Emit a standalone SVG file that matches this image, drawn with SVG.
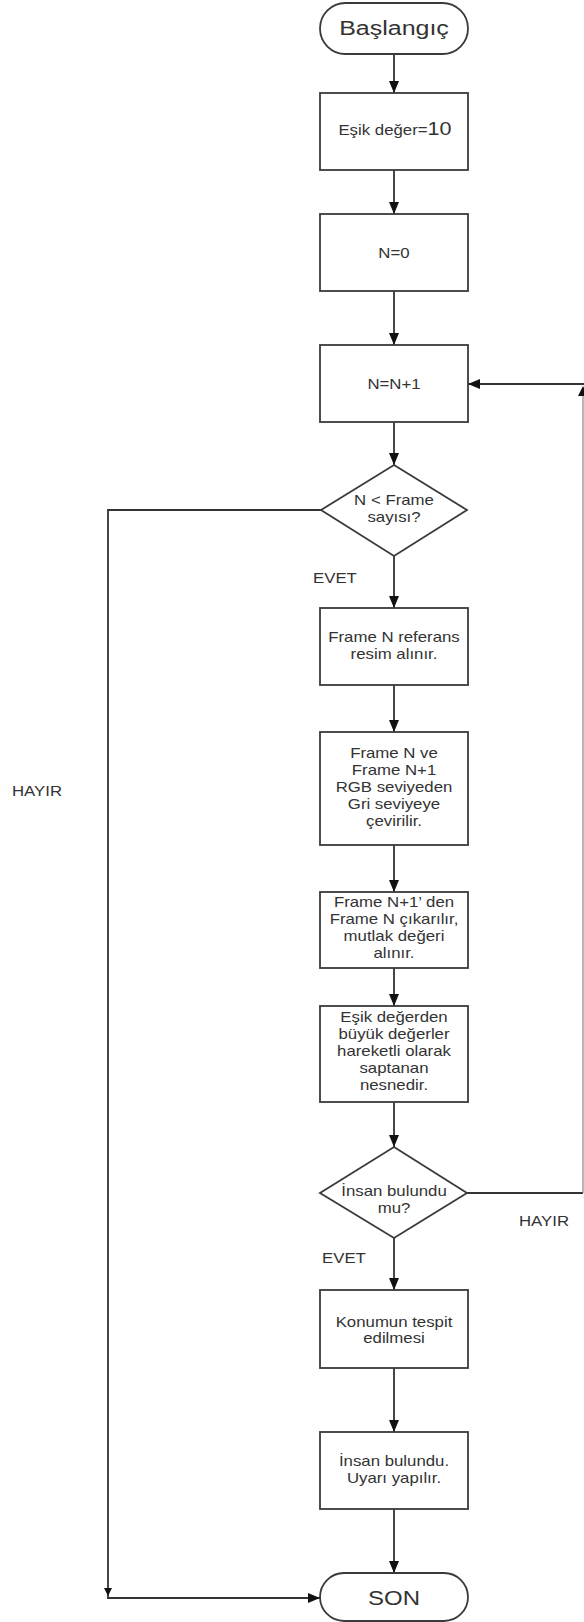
<svg xmlns="http://www.w3.org/2000/svg" width="584" height="1622" viewBox="0 0 584 1622">
<style>
.shape{fill:#fff;stroke:#3a3a3a;stroke-width:1.8}
.ln{fill:none;stroke:#333;stroke-width:1.8}
.t{font-family:"Liberation Sans",Arial,sans-serif;font-size:14px;fill:#333;text-anchor:middle}
.tl{font-family:"Liberation Sans",Arial,sans-serif;font-size:14px;fill:#333;text-anchor:start}
.big{font-size:20px}
</style>
<defs>
<marker id="ah" viewBox="0 0 12 10" refX="12" refY="5" markerWidth="12" markerHeight="10" markerUnits="userSpaceOnUse" orient="auto">
<path d="M0,0 L12,5 L0,10 z" fill="#111"/>
</marker>
</defs>
<rect width="584" height="1622" fill="#fff"/>

<g id="connectors">
<line class="ln" x1="394" y1="54" x2="394" y2="93" marker-end="url(#ah)"/>
<line class="ln" x1="394" y1="170" x2="394" y2="214" marker-end="url(#ah)"/>
<line class="ln" x1="394" y1="291" x2="394" y2="345" marker-end="url(#ah)"/>
<line class="ln" x1="394" y1="422" x2="394" y2="465" marker-end="url(#ah)"/>
<line class="ln" x1="394" y1="556" x2="394" y2="608" marker-end="url(#ah)"/>
<line class="ln" x1="394" y1="685" x2="394" y2="732" marker-end="url(#ah)"/>
<line class="ln" x1="394" y1="845" x2="394" y2="892" marker-end="url(#ah)"/>
<line class="ln" x1="394" y1="968" x2="394" y2="1006" marker-end="url(#ah)"/>
<line class="ln" x1="394" y1="1102" x2="394" y2="1147" marker-end="url(#ah)"/>
<line class="ln" x1="394" y1="1238" x2="394" y2="1290" marker-end="url(#ah)"/>
<line class="ln" x1="394" y1="1368" x2="394" y2="1432" marker-end="url(#ah)"/>
<line class="ln" x1="394" y1="1509" x2="394" y2="1573" marker-end="url(#ah)"/>
<!-- loop back (HAYIR from second decision) -->
<polyline class="ln" points="467,1193 583,1193"/>
<line x1="583" y1="1193" x2="583" y2="392" stroke="#888" stroke-width="1.2"/>
<polygon points="583,386 578,396 588,396" fill="#111"/>
<line class="ln" x1="584" y1="384" x2="468" y2="384" marker-end="url(#ah)"/>
<!-- HAYIR from first decision to end -->
<polyline class="ln" points="321,510 108,510 108,1598 320,1598" marker-end="url(#ah)"/>
<polygon points="108,1596 104,1588 112,1588" fill="#111"/>
</g>

<g id="start">
<rect class="shape" x="320" y="3" width="148" height="51" rx="25.5"/>
<g transform="translate(394,0) scale(1.25,1)"><text class="t big" x="0" y="35">Başlangıç</text></g>
</g>

<g id="esik">
<rect class="shape" x="320" y="93" width="148" height="77"/>
<g transform="translate(395,0) scale(1.2,1)"><text class="t" x="0" y="135">Eşik değer=<tspan font-size="18">10</tspan></text></g>
</g>

<g id="n0">
<rect class="shape" x="320" y="214" width="148" height="77"/>
<g transform="translate(394,0) scale(1.2,1)"><text class="t" x="0" y="258">N=0</text></g>
</g>

<g id="ninc">
<rect class="shape" x="320" y="345" width="148" height="77"/>
<g transform="translate(394,0) scale(1.2,1)"><text class="t" x="0" y="389">N=N+1</text></g>
</g>

<g id="dec1">
<polygon class="shape" points="394,465 467,510 394,556 321,510"/>
<g transform="translate(394,0) scale(1.2,1)"><text class="t" x="0" y="505">N &lt; Frame</text><text class="t" x="0" y="522">sayısı?</text></g>
</g>

<g id="ref">
<rect class="shape" x="320" y="608" width="148" height="77"/>
<g transform="translate(394,0) scale(1.2,1)"><text class="t" x="0" y="642">Frame N referans</text><text class="t" x="0" y="659">resim alınır.</text></g>
</g>

<g id="gray">
<rect class="shape" x="320" y="732" width="148" height="113"/>
<g transform="translate(394,0) scale(1.2,1)">
<text class="t" x="0" y="758">Frame N ve</text>
<text class="t" x="0" y="775">Frame N+1</text>
<text class="t" x="0" y="792">RGB seviyeden</text>
<text class="t" x="0" y="809">Gri seviyeye</text>
<text class="t" x="0" y="826">çevirilir.</text>
</g>
</g>

<g id="diff">
<rect class="shape" x="320" y="892" width="148" height="76"/>
<g transform="translate(394,0) scale(1.2,1)">
<text class="t" x="0" y="907">Frame N+1’ den</text>
<text class="t" x="0" y="924">Frame N çıkarılır,</text>
<text class="t" x="0" y="941">mutlak değeri</text>
<text class="t" x="0" y="958">alınır.</text>
</g>
</g>

<g id="thresh">
<rect class="shape" x="320" y="1006" width="148" height="96"/>
<g transform="translate(394,0) scale(1.2,1)">
<text class="t" x="0" y="1022">Eşik değerden</text>
<text class="t" x="0" y="1039">büyük değerler</text>
<text class="t" x="0" y="1056">hareketli olarak</text>
<text class="t" x="0" y="1073">saptanan</text>
<text class="t" x="0" y="1090">nesnedir.</text>
</g>
</g>

<g id="dec2">
<polygon class="shape" points="394,1147 467,1193 394,1238 320,1193"/>
<g transform="translate(394,0) scale(1.2,1)"><text class="t" x="0" y="1196">İnsan bulundu</text><text class="t" x="0" y="1213">mu?</text></g>
</g>

<g id="konum">
<rect class="shape" x="320" y="1290" width="148" height="78"/>
<g transform="translate(394,0) scale(1.2,1)"><text class="t" x="0" y="1327">Konumun tespit</text><text class="t" x="0" y="1343">edilmesi</text></g>
</g>

<g id="uyari">
<rect class="shape" x="320" y="1432" width="148" height="77"/>
<g transform="translate(394,0) scale(1.2,1)"><text class="t" x="0" y="1466">İnsan bulundu.</text><text class="t" x="0" y="1483">Uyarı yapılır.</text></g>
</g>

<g id="end">
<rect class="shape" x="320" y="1573" width="148" height="48" rx="24"/>
<g transform="translate(394,0) scale(1.2,1)"><text class="t big" x="0" y="1605">SON</text></g>
</g>

<g id="labels">
<g transform="translate(313,0) scale(1.2,1)"><text class="tl" x="0" y="583">EVET</text></g>
<g transform="translate(12,0) scale(1.2,1)"><text class="tl" x="0" y="796">HAYIR</text></g>
<g transform="translate(519,0) scale(1.2,1)"><text class="tl" x="0" y="1226">HAYIR</text></g>
<g transform="translate(322,0) scale(1.2,1)"><text class="tl" x="0" y="1263">EVET</text></g>
</g>
</svg>
